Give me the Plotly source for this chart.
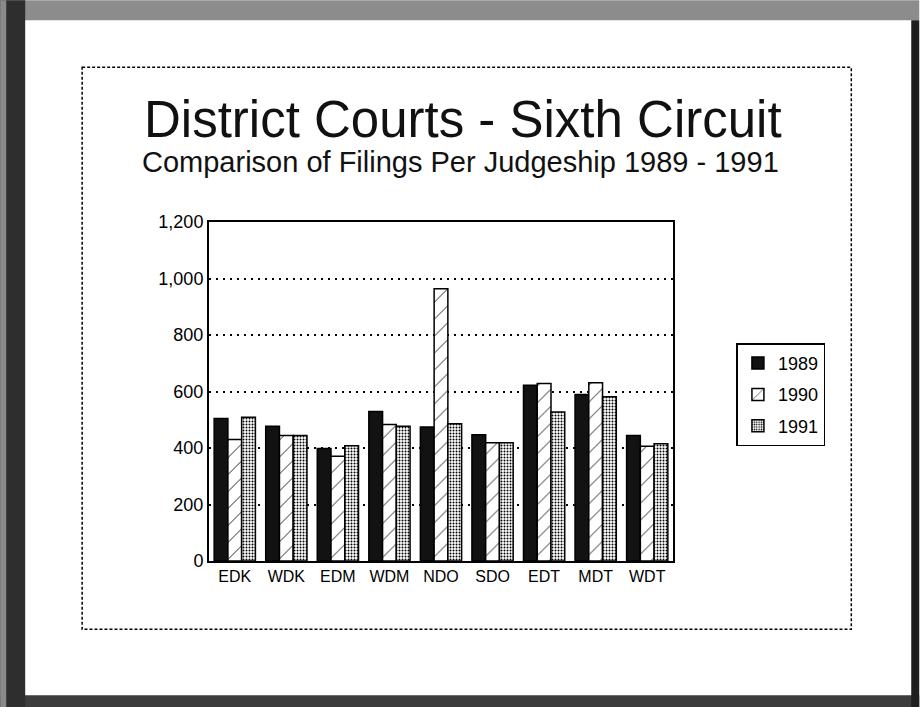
import plotly.graph_objects as go

# ---- data ----
districts = ["EDK", "WDK", "EDM", "WDM", "NDO", "SDO", "EDT", "MDT", "WDT"]
filings_1989 = [504, 477, 398, 529, 474, 447, 622, 589, 444]
filings_1990 = [430, 444, 371, 483, 964, 419, 628, 631, 406]
filings_1991 = [509, 444, 408, 477, 486, 419, 527, 581, 415]
y_ticks = [0, 200, 400, 600, 800, 1000, 1200]

title_text = "District Courts - Sixth Circuit"
subtitle_text = "Comparison of Filings Per Judgeship 1989 - 1991"

W, H = 920, 707
L, R, T, B = 209, 673.5, 221.7, 560.7

def fx(px):
    return (px - L) / (R - L)

def fy(py):
    return (B - py) / (B - T)

FONT = "Liberation Sans, Arial, Helvetica, sans-serif"

fig = go.Figure()
fig.add_trace(go.Bar(
    name="1989", x=districts, y=filings_1989, legendgroup="a",
    marker=dict(color="#121212", line=dict(color="black", width=1.5)),
))
fig.add_trace(go.Bar(
    name="1990", x=districts, y=filings_1990, legendgroup="b",
    marker=dict(color="white", line=dict(color="black", width=1.5),
                pattern=dict(shape="/", fgcolor="#222", bgcolor="white",
                             size=12, solidity=0.08, fillmode="replace")),
))
fig.add_trace(go.Bar(
    name="1991", x=districts, y=filings_1991, legendgroup="c",
    marker=dict(color="white", line=dict(color="black", width=1.5),
                pattern=dict(shape=".", fgcolor="black", bgcolor="white",
                             size=3, solidity=0.35, fillmode="replace")),
))

shapes = []
# scanned page border
shapes.append(dict(type="rect", xref="paper", yref="paper", x0=fx(0), x1=fx(W), y0=fy(0), y1=fy(20),
                   fillcolor="#8c8c8c", line=dict(width=0), layer="below"))
shapes.append(dict(type="rect", xref="paper", yref="paper", x0=fx(0), x1=fx(W), y0=fy(695), y1=fy(H),
                   fillcolor="#3c3c3c", line=dict(width=0), layer="below"))
shapes.append(dict(type="rect", xref="paper", yref="paper", x0=fx(0), x1=fx(25), y0=fy(0), y1=fy(H),
                   fillcolor="#2e2e2e", line=dict(width=0), layer="below"))
shapes.append(dict(type="rect", xref="paper", yref="paper", x0=fx(0), x1=fx(6), y0=fy(0), y1=fy(H),
                   fillcolor="#8a8a8a", line=dict(width=0), layer="below"))
shapes.append(dict(type="rect", xref="paper", yref="paper", x0=fx(912), x1=fx(W), y0=fy(20), y1=fy(H),
                   fillcolor="#1e1e1e", line=dict(width=0), layer="below"))
# dotted inner frame
shapes.append(dict(type="rect", xref="paper", yref="paper", x0=fx(82), x1=fx(852), y0=fy(67), y1=fy(629),
                   line=dict(color="black", width=1.5, dash="3px,2px"), layer="below"))

annotations = [
    dict(text=title_text, xref="paper", yref="paper", x=fx(463), y=fy(119), xanchor="center",
         yanchor="middle", showarrow=False, font=dict(family=FONT, size=51, color="#111")),
    dict(text=subtitle_text, xref="paper", yref="paper", x=fx(461), y=fy(162), xanchor="center",
         yanchor="middle", showarrow=False, font=dict(family=FONT, size=29, color="#111")),
]

fig.update_layout(
    width=W, height=H,
    margin=dict(l=L, r=W - R, t=T, b=H - B, pad=0),
    paper_bgcolor="white", plot_bgcolor="rgba(0,0,0,0)",
    barmode="group", bargap=0.2, bargroupgap=0,
    font=dict(family=FONT, color="black"),
    shapes=shapes, annotations=annotations,
    showlegend=True,
    legend=dict(x=fx(737), y=fy(343), xanchor="left", yanchor="top",
                bordercolor="black", borderwidth=1.5, bgcolor="white",
                font=dict(family=FONT, size=18, color="black"),
                traceorder="grouped", tracegroupgap=5, itemwidth=30),
)
fig.update_xaxes(showline=True, linecolor="black", linewidth=2, mirror=True,
                 ticks="", tickfont=dict(size=16, family=FONT, color="black"),
                 showgrid=False)
fig.update_yaxes(range=[0, 1200], tickvals=y_ticks, tickformat=",",
                 showline=True, linecolor="black", linewidth=2, mirror=True,
                 ticks="", tickfont=dict(size=18, family=FONT, color="black"),
                 showgrid=True, gridcolor="black", gridwidth=1.5, griddash="2px,5px",
                 zeroline=False)

fig.write_html("out.html")
